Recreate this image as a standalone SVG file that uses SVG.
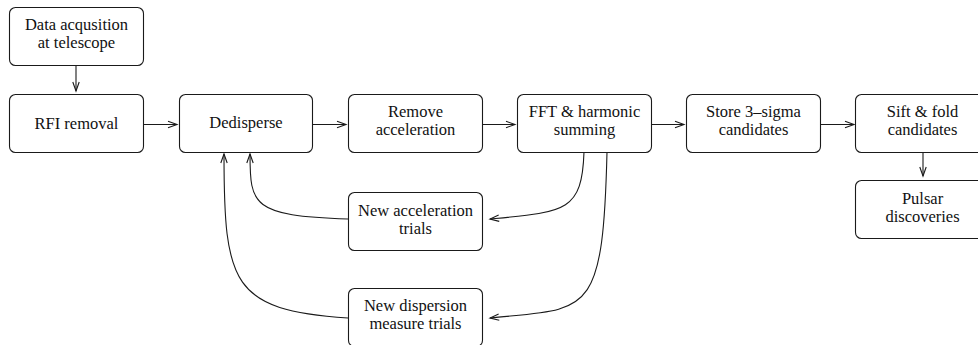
<svg xmlns="http://www.w3.org/2000/svg" width="978" height="345" viewBox="0 0 978 345">
<style>
.box{fill:#fff;stroke:#1a1a1a;stroke-width:1.1}
.t{font-family:"Liberation Serif","Times New Roman",serif;font-size:16.5px;fill:#111;text-anchor:middle}
.c{fill:none;stroke:#1a1a1a;stroke-width:1.1}
</style>
<defs>
<marker id="ah" markerUnits="userSpaceOnUse" markerWidth="12" markerHeight="10" refX="9" refY="4" orient="auto" overflow="visible">
<path d="M0,0.8 L9,4 L0,7.2" fill="none" stroke="#1a1a1a" stroke-width="1.1"/>
</marker>
</defs>
<rect width="978" height="345" fill="#fff"/>
<g id="connectors">
<line class="c" x1="76" y1="65" x2="76" y2="91" marker-end="url(#ah)"/>
<line class="c" x1="143" y1="124.5" x2="177" y2="124.5" marker-end="url(#ah)"/>
<line class="c" x1="312" y1="124.5" x2="346" y2="124.5" marker-end="url(#ah)"/>
<line class="c" x1="482" y1="124.5" x2="515" y2="124.5" marker-end="url(#ah)"/>
<line class="c" x1="651" y1="124.5" x2="684" y2="124.5" marker-end="url(#ah)"/>
<line class="c" x1="820" y1="124.5" x2="854" y2="124.5" marker-end="url(#ah)"/>
<line class="c" x1="923" y1="152" x2="923" y2="176" marker-end="url(#ah)"/>
<path class="c" d="M584,152 C582,212 565,212 490,219" marker-end="url(#ah)"/>
<path class="c" d="M607,152 C603,320 588,308 490,318" marker-end="url(#ah)"/>
<path class="c" d="M348,219 C252,216 250,205 250,154" marker-end="url(#ah)"/>
<path class="c" d="M348,318 C232,310 224,285 224,154" marker-end="url(#ah)"/>
</g>
<g id="data"><rect class="box" x="9.5" y="7.5" width="134" height="58" rx="6"/><text class="t" x="76.5" y="30">Data acqusition</text><text class="t" x="76.5" y="48">at telescope</text></g>
<g id="rfi"><rect class="box" x="9.5" y="94.5" width="134" height="58" rx="6"/><text class="t" x="76.5" y="129">RFI removal</text></g>
<g id="dedisperse"><rect class="box" x="179.5" y="94.5" width="133" height="58" rx="6"/><text class="t" x="246" y="128">Dedisperse</text></g>
<g id="remove"><rect class="box" x="348.5" y="94.5" width="134" height="58" rx="6"/><text class="t" x="415.5" y="117">Remove</text><text class="t" x="415.5" y="135">acceleration</text></g>
<g id="fft"><rect class="box" x="517.5" y="94.5" width="134" height="58" rx="6"/><text class="t" x="584.5" y="117">FFT &amp; harmonic</text><text class="t" x="584.5" y="135">summing</text></g>
<g id="store"><rect class="box" x="686.5" y="94.5" width="134" height="58" rx="6"/><text class="t" x="753.5" y="117">Store 3–sigma</text><text class="t" x="753.5" y="135">candidates</text></g>
<g id="sift"><rect class="box" x="855.5" y="94.5" width="134" height="58" rx="6"/><text class="t" x="922.5" y="117">Sift &amp; fold</text><text class="t" x="922.5" y="135">candidates</text></g>
<g id="pulsar"><rect class="box" x="855.5" y="180.5" width="134" height="58" rx="6"/><text class="t" x="922.5" y="203.5">Pulsar</text><text class="t" x="922.5" y="221.5">discoveries</text></g>
<g id="newacc"><rect class="box" x="348.5" y="192.5" width="134" height="58" rx="6"/><text class="t" x="415.5" y="216">New acceleration</text><text class="t" x="415.5" y="234">trials</text></g>
<g id="newdm"><rect class="box" x="348.5" y="288.5" width="134" height="58" rx="6"/><text class="t" x="415.5" y="311">New dispersion</text><text class="t" x="415.5" y="329">measure trials</text></g>
</svg>
